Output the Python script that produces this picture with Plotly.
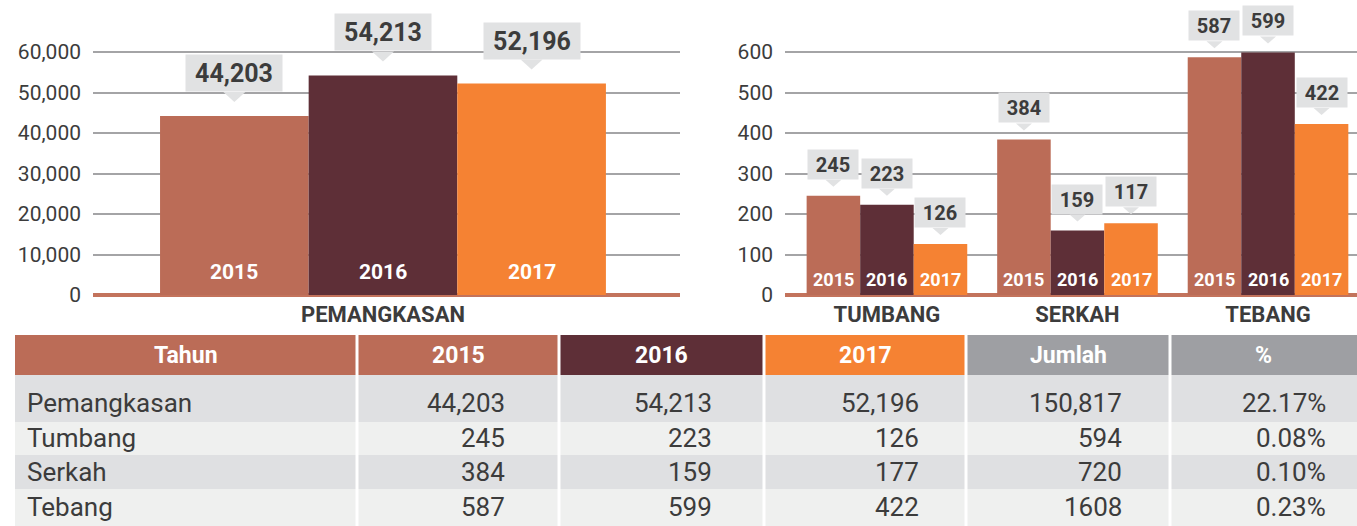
import plotly.graph_objects as go

# ---------------- data ----------------
years = ["2015", "2016", "2017"]
year_colors = ["#bb6c57", "#5e2f37", "#f58233"]

left_categories = ["PEMANGKASAN"]
left_2015 = [44203]
left_2016 = [54213]
left_2017 = [52196]
left_labels_2015 = ["44,203"]
left_labels_2016 = ["54,213"]
left_labels_2017 = ["52,196"]

right_categories = ["TUMBANG", "SERKAH", "TEBANG"]
right_2015 = [245, 384, 587]
right_2016 = [223, 159, 599]
right_2017 = [126, 177, 422]
right_labels_2015 = ["245", "384", "587"]
right_labels_2016 = ["223", "159", "599"]
right_labels_2017 = ["126", "117", "422"]  # as printed in the source

left_ticks = [0, 10000, 20000, 30000, 40000, 50000, 60000]
right_ticks = [0, 100, 200, 300, 400, 500, 600]

table_header = ["Tahun", "2015", "2016", "2017", "Jumlah", "%"]
table_rows = ["Pemangkasan", "Tumbang", "Serkah", "Tebang"]
table_col_2015 = ["44,203", "245", "384", "587"]
table_col_2016 = ["54,213", "223", "159", "599"]
table_col_2017 = ["52,196", "126", "177", "422"]
table_col_jumlah = ["150,817", "594", "720", "1608"]
table_col_pct = ["22.17%", "0.08%", "0.10%", "0.23%"]

# ---------------- style / layout ----------------
W, H = 1357, 526
FONT = "Roboto, 'Open Sans', sans-serif"
TXT = "#3c3c3c"
BOX = "#e1e2e3"
GRID = "#a4a4a6"
BASE = "#c3735c"
header_colors = ["#bb6c57", "#bb6c57", "#5e2f37", "#f58233", "#9e9fa3", "#9e9fa3"]
row_colors = ["#dfe0e2", "#eff0ef", "#dfe0e2", "#eff0ef"]


def px(x):
    return x / W


def py(y):
    return 1 - y / H


fig = go.Figure()
annotations = []
shapes = []


def add_group(series, labels, xaxis, yaxis, n, w, year_shift, box_shift, box_w, box_h,
              box_font, year_font, tri_half, tri_h):
    for k, (vals, labs) in enumerate(zip(series, labels)):
        xs = [i + (k - 1) * w for i in range(n)]
        fig.add_trace(go.Bar(
            x=xs, y=vals, width=w, marker=dict(color=year_colors[k], line=dict(width=0)),
            xaxis=xaxis, yaxis=yaxis, showlegend=False, hoverinfo="skip"))
        for x, v, lab in zip(xs, vals, labs):
            annotations.append(dict(
                x=x, y=0, xref=xaxis, yref=yaxis, text=f"<b>{years[k]}</b>",
                showarrow=False, yanchor="middle", yshift=year_shift,
                font=dict(family=FONT, size=year_font, color="white")))
            annotations.append(dict(
                x=x, y=v, xref=xaxis, yref=yaxis, text=f"<b>{lab}</b>",
                showarrow=False, yanchor="bottom", yshift=box_shift,
                width=box_w, height=box_h, borderpad=0, bgcolor=BOX, valign="middle",
                font=dict(family=FONT, size=box_font, color=TXT)))
            shapes.append(dict(
                type="path", xref=xaxis, yref=yaxis, xsizemode="pixel", ysizemode="pixel",
                xanchor=x, yanchor=v,
                path=f"M{-tri_half},{box_shift} L{tri_half},{box_shift} L0,{box_shift - tri_h} Z",
                fillcolor=BOX, line=dict(width=0), layer="above"))


# left chart
lw = 0.2532
add_group([left_2015, left_2016, left_2017],
          [left_labels_2015, left_labels_2016, left_labels_2017],
          "x", "y", len(left_categories), lw, 23, 24, 96, 36, 25, 21, 11, 10)

# right chart
rw = 0.281
add_group([right_2015, right_2016, right_2017],
          [right_labels_2015, right_labels_2016, right_labels_2017],
          "x2", "y2", len(right_categories), rw, 16, 16, 50, 29, 20, 18, 8, 7)

# ---------------- table ----------------
col_edges = [15, 357, 559, 764, 966, 1170, 1357]
row_edges = [335, 375, 422, 455, 489, 526]
text_centers = [403, 438, 472, 507]
right_anchor = [None, 507, 714, 921, 1124, 1328]

for c in range(6):
    shapes.append(dict(type="rect", xref="paper", yref="paper",
                       x0=px(col_edges[c]), x1=px(col_edges[c + 1]),
                       y0=py(row_edges[1]), y1=py(row_edges[0]),
                       fillcolor=header_colors[c], line=dict(width=0), layer="below"))
    annotations.append(dict(x=px((col_edges[c] + col_edges[c + 1]) / 2),
                            y=py((row_edges[0] + row_edges[1]) / 2),
                            xref="paper", yref="paper", showarrow=False,
                            text=f"<b>{table_header[c]}</b>", xanchor="center", yanchor="middle",
                            font=dict(family=FONT, size=23, color="white")))
for r in range(4):
    shapes.append(dict(type="rect", xref="paper", yref="paper",
                       x0=px(col_edges[0]), x1=px(col_edges[-1]),
                       y0=py(row_edges[r + 2]), y1=py(row_edges[r + 1]),
                       fillcolor=row_colors[r], line=dict(width=0), layer="below"))
for xe in col_edges[1:-1]:
    shapes.append(dict(type="line", xref="paper", yref="paper",
                       x0=px(xe), x1=px(xe), y0=py(row_edges[-1]), y1=py(row_edges[0]),
                       line=dict(color="white", width=3), layer="below"))

columns = [table_rows, table_col_2015, table_col_2016, table_col_2017,
           table_col_jumlah, table_col_pct]
for c, col in enumerate(columns):
    for r, val in enumerate(col):
        if c == 0:
            xx, xa = px(25), "left"
        else:
            xx, xa = px(right_anchor[c]), "right"
        annotations.append(dict(x=xx, y=py(text_centers[r]), xref="paper", yref="paper",
                                showarrow=False, text=val, xanchor=xa, yanchor="middle",
                                font=dict(family=FONT, size=26, color=TXT)))

# ---------------- axes ----------------
y0 = py(295)
left_top = 295 - 70000 * 243 / 60000
right_top = 295 - 700 * 243 / 600

common_x = dict(showgrid=False, zeroline=False, showline=False, ticks="",
                ticklabelstandoff=4, automargin=False, fixedrange=True,
                tickfont=dict(family=FONT, size=22, color=TXT))
common_y = dict(tickformat=",d", showgrid=True, gridcolor=GRID, gridwidth=1.5,
                zeroline=True, zerolinecolor=BASE, zerolinewidth=3.5, showline=False,
                ticks="", ticklabelstandoff=11, automargin=False, fixedrange=True,
                tickfont=dict(family=FONT, size=21, color=TXT))

fig.update_layout(
    template="none",
    width=W, height=H, margin=dict(l=0, r=0, t=0, b=0, autoexpand=False),
    paper_bgcolor="white", plot_bgcolor="white",
    barmode="overlay", showlegend=False,
    font=dict(family=FONT, color=TXT),
    xaxis=dict(domain=[px(93), px(680)], range=[-0.494, 0.506],
               tickvals=list(range(len(left_categories))),
               ticktext=[f"<b>{c}</b>" for c in left_categories], **common_x),
    yaxis=dict(domain=[y0, py(left_top)], range=[0, 70000], tickvals=left_ticks, **common_y),
    xaxis2=dict(domain=[px(785), 1.0], range=[-0.535, 2.467],
                tickvals=list(range(len(right_categories))),
                ticktext=[f"<b>{c}</b>" for c in right_categories], anchor="y2", **common_x),
    yaxis2=dict(domain=[y0, py(right_top)], range=[0, 700], tickvals=right_ticks,
                anchor="x2", **common_y),
    annotations=annotations,
    shapes=shapes,
)

fig.write_html("out.html", config={"displayModeBar": False},
               post_script="document.body.style.margin='0';document.body.style.overflow='hidden';")
